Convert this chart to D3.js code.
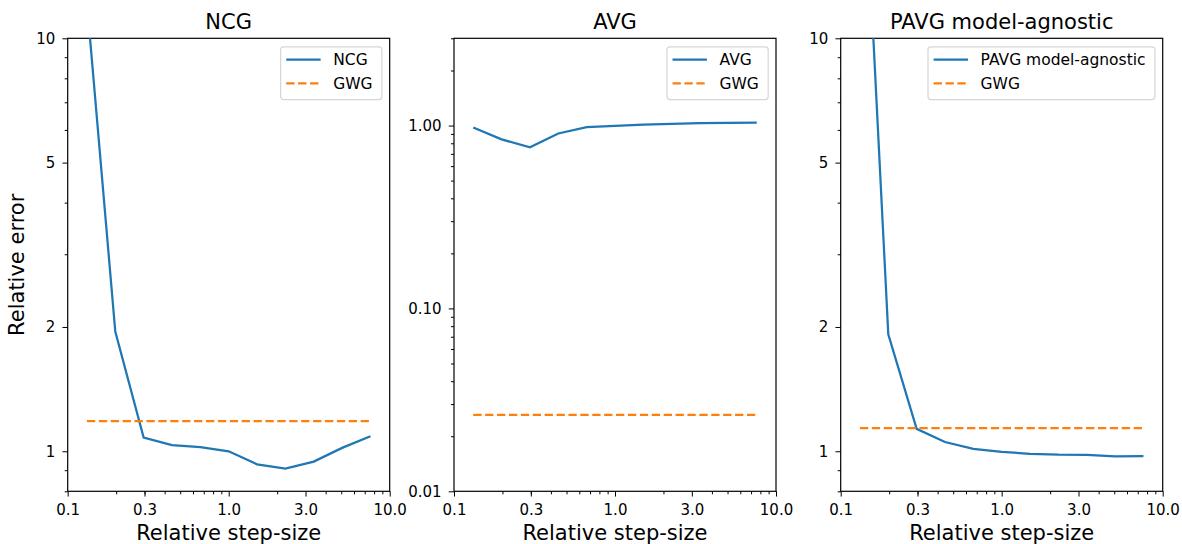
<!DOCTYPE html>
<html>
<head>
<meta charset="utf-8">
<script src="https://cdn.jsdelivr.net/npm/d3@7"></script>
<style>
  body { margin: 0; background: #fff; }
  text { font-family: "DejaVu Sans", sans-serif; fill: #000; }
</style>
</head>
<body>
<svg id="chart"></svg>
<script>
// data
var stepSizes = [0.1317, 0.1975, 0.2963, 0.4444, 0.6667, 1.0, 1.5, 2.25, 3.375, 5.0625, 7.594];
var ncgError  = [12.2, 1.95, 1.08, 1.035, 1.023, 1.0, 0.93, 0.908, 0.944, 1.019, 1.087];
var avgError  = [0.975, 0.84, 0.76, 0.905, 0.98, 0.995, 1.012, 1.022, 1.03, 1.035, 1.037];
var pavgError = [44, 1.92, 1.133, 1.053, 1.013, 0.997, 0.986, 0.981, 0.98, 0.972, 0.974];
var gwgError  = [1.183, 0.0262, 1.138];   // one flat reference per panel

var panelTitles = ["NCG", "AVG", "PAVG model-agnostic"];
var xTicks = [0.1, 0.3, 1.0, 3.0, 10.0];
var xTickLabels = ["0.1", "0.3", "1.0", "3.0", "10.0"];
var yTicksA = [1, 2, 5, 10];
var yTickLabelsA = ["1", "2", "5", "10"];
var yTicksB = [0.01, 0.1, 1];
var yTickLabelsB = ["0.01", "0.10", "1.00"];

var panels = [
  {title: panelTitles[0], values: ncgError,  gwg: gwgError[0], ydom: [0.8, 10], yt: yTicksA, yl: yTickLabelsA},
  {title: panelTitles[1], values: avgError,  gwg: gwgError[1], ydom: [0.01, 3], yt: yTicksB, yl: yTickLabelsB},
  {title: panelTitles[2], values: pavgError, gwg: gwgError[2], ydom: [0.8, 10], yt: yTicksA, yl: yTickLabelsA}
];

var W = 1182, H = 544;
var lefts = [67.7, 454, 840.7];
var pw = 322, plotTop = 38.3, plotBottom = 491.3;

var svg = d3.select("#chart").attr("width", W).attr("height", H);

// minor tick values for a log axis
function minors(lo, hi) {
  var out = [];
  for (var e = -3; e <= 2; e++) {
    for (var m = 2; m <= 9; m++) {
      var v = m * Math.pow(10, e);
      if (v >= lo * 0.999 && v <= hi * 1.001) out.push(v);
    }
  }
  return out;
}

panels.forEach(function (p, i) {
  var x = d3.scaleLog().domain([0.1, 10]).range([lefts[i], lefts[i] + pw]);
  var y = d3.scaleLog().domain(p.ydom).range([plotBottom, plotTop]);
  var g = svg.append("g");

  g.append("clipPath").attr("id", "clip" + i)
    .append("rect").attr("x", lefts[i]).attr("y", plotTop).attr("width", pw).attr("height", plotBottom - plotTop);

  // x axis
  var xa = g.append("g").attr("transform", "translate(0," + plotBottom + ")")
    .call(d3.axisBottom(x).tickValues(xTicks).tickSize(5.25).tickPadding(8)
      .tickFormat(function (d, k) { return xTickLabels[k]; }));
  xa.append("g").call(d3.axisBottom(x).tickValues(minors(0.1, 10).filter(function (v) { return xTicks.indexOf(v) < 0; }))
      .tickSize(3).tickFormat(""));
  // y axis
  var ya = g.append("g").attr("transform", "translate(" + lefts[i] + ",0)")
    .call(d3.axisLeft(y).tickValues(p.yt).tickSize(5.25).tickPadding(7.2)
      .tickFormat(function (d, k) { return p.yl[k]; }));
  ya.append("g").call(d3.axisLeft(y).tickValues(minors(p.ydom[0], p.ydom[1]).filter(function (v) {
      return p.yt.every(function (t) { return Math.abs(t - v) > 1e-9; });
    })).tickSize(3).tickFormat(""));

  g.selectAll(".domain").remove();
  g.selectAll(".tick line").attr("stroke", "#000").attr("stroke-width", 1);
  g.selectAll(".tick text").style("font-size", "15px").style("font-family", "DejaVu Sans");

  // frame
  g.append("rect").attr("x", lefts[i]).attr("y", plotTop).attr("width", pw).attr("height", plotBottom - plotTop)
    .attr("fill", "none").attr("stroke", "#000").attr("stroke-width", 1.2);

  var pts = stepSizes.map(function (s, k) { return [s, p.values[k]]; });
  var line = d3.line().x(function (d) { return x(d[0]); }).y(function (d) { return y(d[1]); });

  g.append("path").datum(pts).attr("d", line).attr("clip-path", "url(#clip" + i + ")")
    .attr("fill", "none").attr("stroke", "#1f77b4").attr("stroke-width", 2.25);

  var flat = stepSizes.map(function (s) { return [s, p.gwg]; });
  g.append("path").datum(flat).attr("d", line).attr("clip-path", "url(#clip" + i + ")")
    .attr("fill", "none").attr("stroke", "#ff7f0e").attr("stroke-width", 2.25)
    .attr("stroke-dasharray", "8.3,3.6");

  // title
  g.append("text").attr("x", lefts[i] + pw / 2).attr("y", 28.5).attr("text-anchor", "middle")
    .style("font-size", "21px").text(p.title);
  // x label
  g.append("text").attr("x", lefts[i] + pw / 2).attr("y", 540).attr("text-anchor", "middle")
    .style("font-size", "21px").text("Relative step-size");

  // legend
  var lg = g.append("g");
  var box = lg.append("rect").attr("fill", "#fff").attr("fill-opacity", 0.8)
    .attr("stroke", "#d6d6d6").attr("stroke-width", 1.2).attr("rx", 3);
  var items = [{name: p.title, color: "#1f77b4", dash: null}, {name: "GWG", color: "#ff7f0e", dash: "8.3,3.6"}];
  var maxW = 0;
  items.forEach(function (it, k) {
    var cy = 59.7 + k * 23.6;
    var t = lg.append("text").attr("x", 52.6).attr("y", cy).attr("dy", "0.36em")
      .style("font-size", "15.5px").text(it.name);
    maxW = Math.max(maxW, t.node().getComputedTextLength());
    lg.append("line").attr("x1", 5.6).attr("x2", 40).attr("y1", cy).attr("y2", cy)
      .attr("stroke", it.color).attr("stroke-width", 2.25).attr("stroke-dasharray", it.dash);
  });
  var bw = 52.6 + maxW + 9.3;
  box.attr("x", 0).attr("y", 46.8).attr("width", bw).attr("height", 52.8);
  lg.attr("transform", "translate(" + (lefts[i] + pw - 7.8 - bw) + ",0)");
});

// y label
svg.append("text").attr("transform", "translate(24," + ((plotTop + plotBottom) / 2) + ") rotate(-90)")
  .attr("text-anchor", "middle").style("font-size", "21px").text("Relative error");
</script>
</body>
</html>
